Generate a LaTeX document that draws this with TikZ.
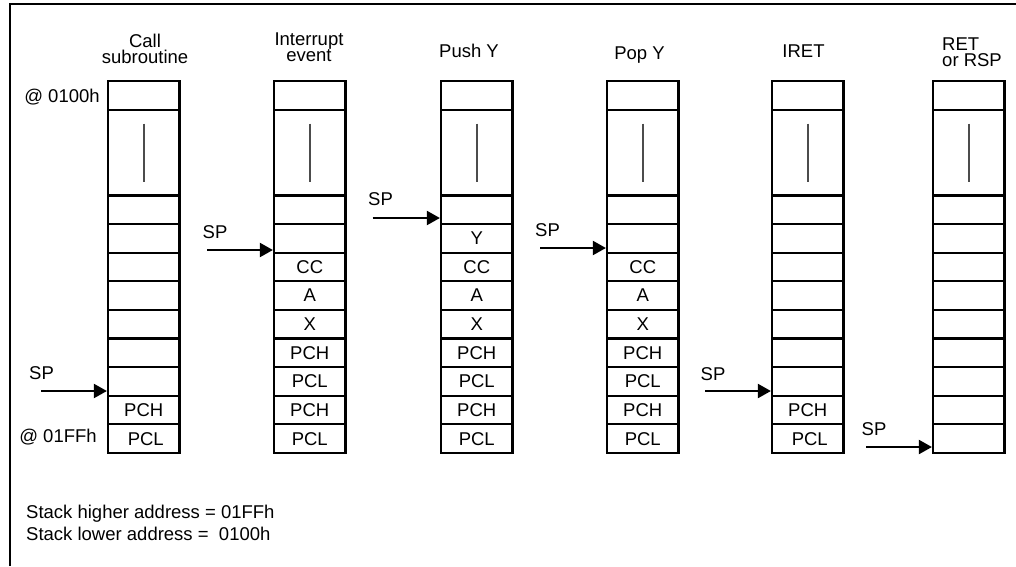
\documentclass[tikz,border=0pt]{standalone}
\usepackage{fontspec}
\setmainfont{Liberation Sans}
\usetikzlibrary{arrows.meta,positioning}

\tikzset{
  cell/.style={draw, line width=2.2pt, minimum width=71.5pt, minimum height=28.615pt, inner sep=0pt},
  bigcell/.style={cell, minimum height=85.85pt},
  lbl/.style={inner sep=0pt, font=\fontsize{18.5}{21.5}\selectfont},
  title/.style={lbl, align=center, font=\fontsize{18.5}{16.5}\selectfont},
  sparrow/.style={line width=2pt, -{Triangle[length=13pt,width=14pt]}},
  gapline/.style={line width=2pt, black!70},
}

\begin{document}
\begin{tikzpicture}[x=1pt, y=-1pt]
    \useasboundingbox (0,0) rectangle (1016,566);

    % Frame
    \draw[line width=2pt] (10,566) -- (10,4) -- (1016,4);

    % Stacks, one per step: top cell, gap cell, nine cells
    \foreach \c/\x in {1/143.75, 2/309.75, 3/476.75, 4/642.75, 5/807.75, 6/968.75} {
        \node[cell] (s\c-1) at (\x, 95.3) {};
        \node[bigcell] (s\c-2) at (\x, 152.54) {};
        \draw[gapline] ([yshift=29pt]s\c-2.center) -- ([yshift=-29pt]s\c-2.center);
        \foreach \r in {5,...,13}
            \node[cell] (s\c-\r) at (\x, {81+(\r-0.5)*28.615}) {};
    }

    % Step titles
    \node[title] (t1) at (145,49) {Call\\subroutine};
    \node[title] (t2) at (309,47) {Interrupt\\event};
    \node[lbl, anchor=base] (t3) at (469,57) {Push Y};
    \node[lbl, anchor=base] (t4) at (639.5,59) {Pop Y};
    \node[lbl, anchor=base] (t5) at (803.5,57) {IRET};
    \node[title, align=left, anchor=west] (t6) at (942,52) {RET\\or RSP};

    % Stack addresses
    \node[lbl, left=7pt of s1-1, yshift=-2pt] (adtop) {@ 0100h};
    \node[lbl, left=10pt of s1-13, yshift=2pt] (adbot) {@ 01FFh};

    % Return address only
    \foreach \c in {1,5} {
        \node[lbl] (v\c-12) at (s\c-12) {PCH};
        \node[lbl, xshift=2pt] (v\c-13) at (s\c-13) {PCL};
    }

    % Saved context after the interrupt
    \foreach \c in {2,3,4}
        \foreach \r/\t in {7/CC, 8/A, 9/X, 10/PCH, 11/PCL, 12/PCH, 13/PCL}
            \node[lbl] (v\c-\r) at (s\c-\r) {\t};
    \node[lbl] (v3-6) at (s3-6) {Y};

    % Stack pointer arrows
    \coordinate (a1) at (41,391);
    \coordinate (a2) at (207,250);
    \coordinate (a3) at (372.5,218);
    \coordinate (a4) at (540,248);
    \coordinate (a5) at (705,391);
    \coordinate (a6) at (866,447);
    \foreach \c in {1,...,6}
        \draw[sparrow] (a\c) -- (a\c -| s\c-1.west);

    \node[lbl, anchor=base west] (sp1) at (29,379.5) {SP};
    \node[lbl, anchor=base west] (sp2) at (202.5,238) {SP};
    \node[lbl, anchor=base west] (sp3) at (368,205) {SP};
    \node[lbl, anchor=base west] (sp4) at (535,236) {SP};
    \node[lbl, anchor=base west] (sp5) at (700.5,380) {SP};
    \node[lbl, anchor=base west] (sp6) at (861.5,435) {SP};

    % Address range note
    \node[lbl, anchor=base west] (hi) at (26,518.5) {Stack higher address = 01FFh};
    \node[lbl, anchor=base west] (lo) at (26,540) {Stack lower address = \ 0100h};
\end{tikzpicture}
\end{document}
